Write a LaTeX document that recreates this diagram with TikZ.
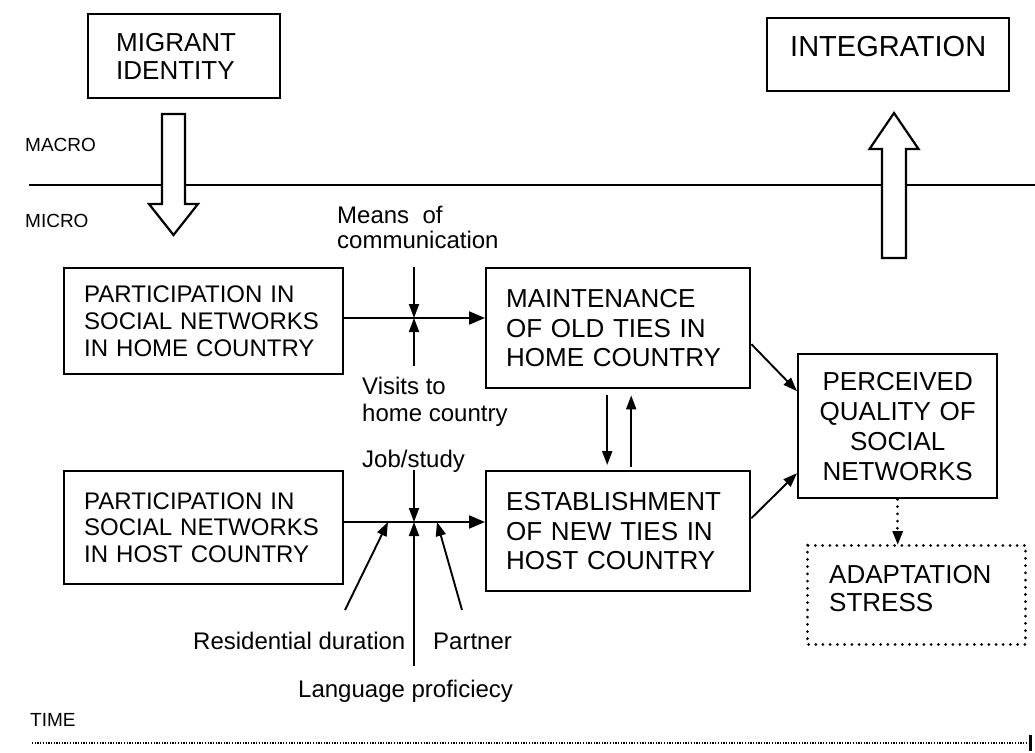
\documentclass[tikz,border=0pt]{standalone}
\usepackage{fontspec}
\setmainfont{Liberation Sans}
\usetikzlibrary{arrows.meta}
\newcommand\myfLab{\fontsize{24}{26.7}\selectfont}
\newcommand\myfBox{\fontsize{26}{29.5}\selectfont}
\newcommand\myfSm{\fontsize{19}{22}\selectfont}
\begin{document}
\begin{tikzpicture}[x=1pt,y=-1pt,
  box/.style={draw, line width=2.4pt, inner ysep=0pt, anchor=north west},
  lbl/.style={anchor=base west, inner sep=0pt, font=\myfLab},
  sm/.style={anchor=base west, inner sep=0pt, font=\myfSm},
  arrL/.style={line width=2.1pt, -{Triangle[length=16pt,width=13pt]}},
  arrS/.style={line width=1.9pt, -{Triangle[length=14pt,width=10pt]}},
  dots/.style={line width=3pt, line cap=round, dash pattern=on 0.01pt off 7.2pt},
  block/.style={draw, fill=white, line width=2.2pt, line join=miter}]
\useasboundingbox (0,0) rectangle (1035,752);

% macro / micro divider
\coordinate (hl) at (29,185);
\coordinate (hr) at (1035,185);
\draw[line width=2pt] (hl) -- (hr);
\node[sm] (macro) at (25,151) {MACRO};
\node[sm] (micro) at (25,227) {MICRO};

% top boxes
\node[box, minimum width=192pt, minimum height=84pt, inner xsep=28pt, text width=136pt, align=left, font=\fontsize{26}{28}\selectfont] (mi) at (87,13) {MIGRANT\\IDENTITY};
\node[box, minimum width=242pt, minimum height=73pt, inner xsep=10pt, text width=222pt, align=center, font=\fontsize{29}{32}\selectfont, text height=21pt, text depth=18pt] (ig) at (766,17) {INTEGRATION};

% block arrows
\draw[block] (162,114) -- (185,114) -- (185,204) -- (198,204) -- (173.5,235) -- (149,204) -- (162,204) -- cycle;
\draw[block] (882,258) -- (906,258) -- (906,149) -- (918.5,149) -- (894,113) -- (869.5,149) -- (882,149) -- cycle;

% main boxes
\node[box, minimum width=279pt, minimum height=106pt, inner xsep=20pt, text width=239pt, align=left, font=\myfLab] (b1) at (63,267) {PARTICIPATION IN\\SOCIAL NETWORKS\\IN HOME COUNTRY};
\node[box, minimum width=279pt, minimum height=113pt, inner xsep=20pt, text width=239pt, align=left, font=\myfLab] (b2) at (63,470) {PARTICIPATION IN\\SOCIAL NETWORKS\\IN HOST COUNTRY};
\node[box, minimum width=264pt, minimum height=120pt, inner xsep=20pt, text width=224pt, align=left, font=\myfBox] (mt) at (485,267) {MAINTENANCE\\OF OLD TIES IN\\HOME COUNTRY};
\node[box, minimum width=264pt, minimum height=120pt, inner xsep=20pt, text width=224pt, align=left, font=\myfBox] (es) at (485,470) {ESTABLISHMENT\\OF NEW TIES IN\\HOST COUNTRY};
\node[box, minimum width=199pt, minimum height=144pt, inner xsep=9pt, text width=181pt, align=center, font=\fontsize{26}{30}\selectfont] (pq) at (797,353) {PERCEIVED\\QUALITY OF\\SOCIAL\\NETWORKS};
\node[box, draw=none, minimum width=216pt, minimum height=97pt, inner xsep=21pt, text width=174pt, align=left, font=\fontsize{26}{28}\selectfont, text depth=41pt] (ad) at (807,545) {ADAPTATION\\STRESS};
\draw[dots] (ad.north west) rectangle (ad.south east);

% junctions
\coordinate (j1) at (414,318);
\coordinate (j2) at (414,522);

% home country path
\draw[arrL] (b1.east |- j1) -- (j1 -| mt.west);
\draw[arrS] (j1 |- b1.north) -- (j1);
\coordinate (v1) at (414,366);
\draw[arrS] (v1) -- (j1);
\node[lbl] (mc1) at (337,223) {Means\ \ of};
\node[lbl] (mc2) at (337,248) {communication};
\node[lbl] (vh1) at (362,394) {Visits to};
\node[lbl] (vh2) at (362,421) {home country};

% host country path
\draw[arrL] (b2.east |- j2) -- (j2 -| es.west);
\draw[arrS] (j2 |- b2.north) -- (j2);
\node[lbl] (js) at (362,467) {Job/study};
\coordinate (rd) at (345,610);
\coordinate (rdt) at (388,522);
\draw[arrS] (rd) -- (rdt);
\coordinate (lp) at (414,666);
\draw[arrS] (lp) -- (j2);
\coordinate (pa) at (462,610);
\coordinate (pat) at (437,522);
\draw[arrS] (pa) -- (pat);
\node[lbl] (rdl) at (193,649) {Residential duration};
\node[lbl] (pal) at (433,649) {Partner};
\node[lbl] (lpl) at (298,697) {Language proficiecy};

% between ties boxes
\draw[arrS, shorten <=6pt, shorten >=5pt] ([xshift=-11pt]mt.south) -- ([xshift=-11pt]es.north);
\draw[arrS, shorten <=3pt, shorten >=6pt] ([xshift=13pt]es.north) -- ([xshift=13pt]mt.south);

% to perceived quality
\draw[arrS] ([yshift=-16pt]mt.east) -- ([yshift=35pt]pq.west);
\draw[arrS] ([yshift=13pt]es.east) -- ([yshift=-47pt]pq.west);
\draw[dots, -{Triangle[length=14pt,width=10pt]}] (pq.south) -- (pq.south |- ad.north);

% time
\node[sm] (time) at (30,726) {TIME};
\coordinate (t0) at (32,743);
\coordinate (t1) at (1028,743);
\draw[line width=2pt, dash pattern=on 1.3pt off 1.4pt] (t0) -- (t1);
\draw[line width=3pt] (1030,735) -- (1030,751);
\end{tikzpicture}
\end{document}
